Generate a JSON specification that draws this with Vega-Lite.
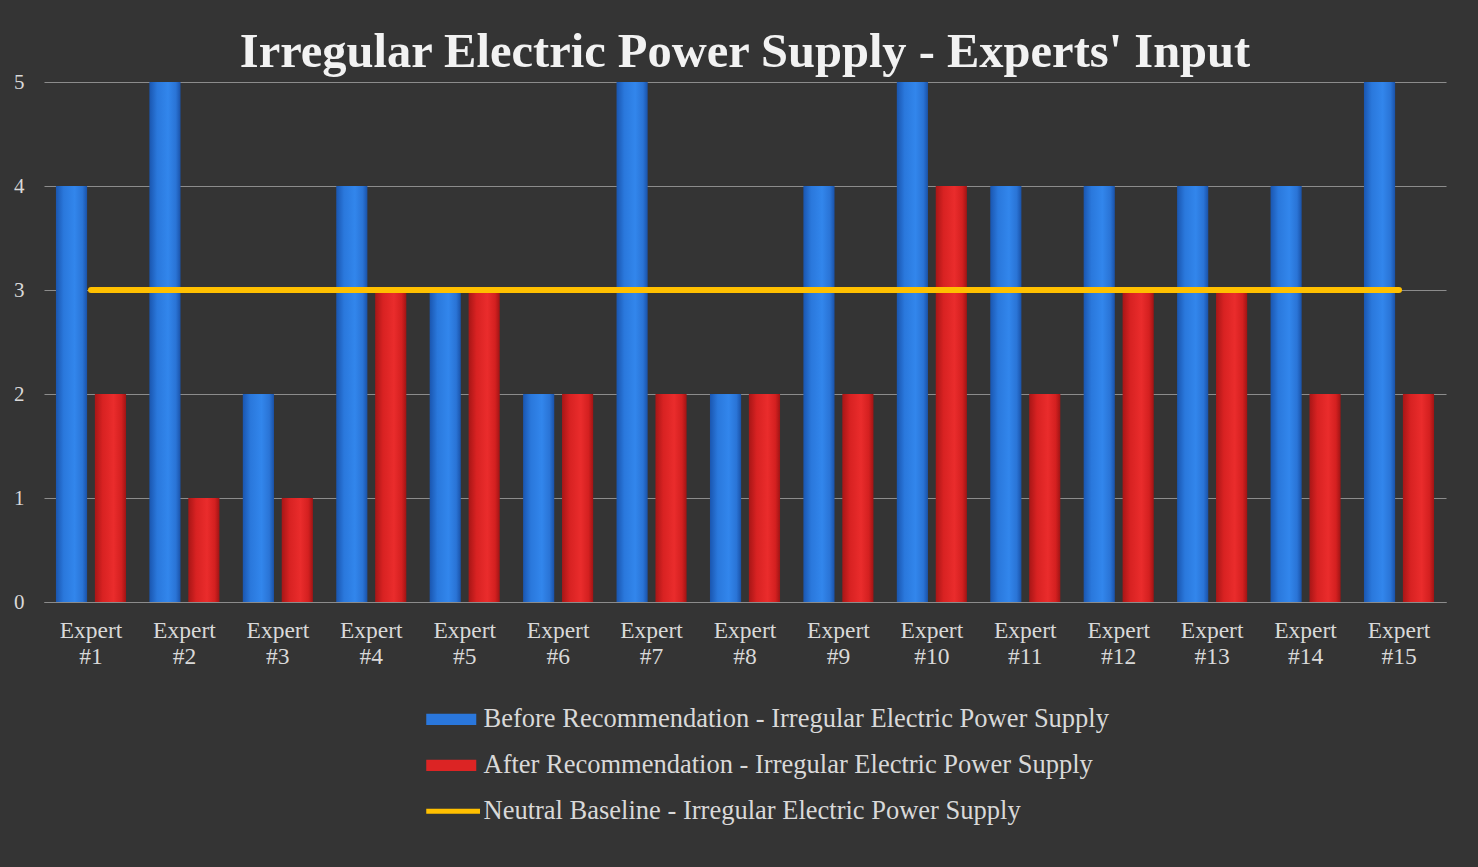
{
  "$schema": "https://vega.github.io/schema/vega-lite/v6.json",
  "autosize": {"type": "none"},
  "width": 1402,
  "height": 520,
  "padding": {"left": 44, "top": 82, "right": 32, "bottom": 265},
  "background": "#343434",
  "config": {
    "view": {"stroke": null},
    "font": "Liberation Serif"
  },
  "title": {
    "text": "Irregular Electric Power Supply - Experts' Input",
    "font": "Liberation Serif",
    "fontSize": 48.5,
    "fontWeight": "bold",
    "color": "#f2f2f2",
    "anchor": "middle",
    "offset": -6
  },
  "data": {
    "values": [
      {"expert": "Expert #1", "series": "Before Recommendation - Irregular Electric Power Supply", "value": 4},
      {"expert": "Expert #2", "series": "Before Recommendation - Irregular Electric Power Supply", "value": 5},
      {"expert": "Expert #3", "series": "Before Recommendation - Irregular Electric Power Supply", "value": 2},
      {"expert": "Expert #4", "series": "Before Recommendation - Irregular Electric Power Supply", "value": 4},
      {"expert": "Expert #5", "series": "Before Recommendation - Irregular Electric Power Supply", "value": 3},
      {"expert": "Expert #6", "series": "Before Recommendation - Irregular Electric Power Supply", "value": 2},
      {"expert": "Expert #7", "series": "Before Recommendation - Irregular Electric Power Supply", "value": 5},
      {"expert": "Expert #8", "series": "Before Recommendation - Irregular Electric Power Supply", "value": 2},
      {"expert": "Expert #9", "series": "Before Recommendation - Irregular Electric Power Supply", "value": 4},
      {"expert": "Expert #10", "series": "Before Recommendation - Irregular Electric Power Supply", "value": 5},
      {"expert": "Expert #11", "series": "Before Recommendation - Irregular Electric Power Supply", "value": 4},
      {"expert": "Expert #12", "series": "Before Recommendation - Irregular Electric Power Supply", "value": 4},
      {"expert": "Expert #13", "series": "Before Recommendation - Irregular Electric Power Supply", "value": 4},
      {"expert": "Expert #14", "series": "Before Recommendation - Irregular Electric Power Supply", "value": 4},
      {"expert": "Expert #15", "series": "Before Recommendation - Irregular Electric Power Supply", "value": 5},
      {"expert": "Expert #1", "series": "After Recommendation - Irregular Electric Power Supply", "value": 2},
      {"expert": "Expert #2", "series": "After Recommendation - Irregular Electric Power Supply", "value": 1},
      {"expert": "Expert #3", "series": "After Recommendation - Irregular Electric Power Supply", "value": 1},
      {"expert": "Expert #4", "series": "After Recommendation - Irregular Electric Power Supply", "value": 3},
      {"expert": "Expert #5", "series": "After Recommendation - Irregular Electric Power Supply", "value": 3},
      {"expert": "Expert #6", "series": "After Recommendation - Irregular Electric Power Supply", "value": 2},
      {"expert": "Expert #7", "series": "After Recommendation - Irregular Electric Power Supply", "value": 2},
      {"expert": "Expert #8", "series": "After Recommendation - Irregular Electric Power Supply", "value": 2},
      {"expert": "Expert #9", "series": "After Recommendation - Irregular Electric Power Supply", "value": 2},
      {"expert": "Expert #10", "series": "After Recommendation - Irregular Electric Power Supply", "value": 4},
      {"expert": "Expert #11", "series": "After Recommendation - Irregular Electric Power Supply", "value": 2},
      {"expert": "Expert #12", "series": "After Recommendation - Irregular Electric Power Supply", "value": 3},
      {"expert": "Expert #13", "series": "After Recommendation - Irregular Electric Power Supply", "value": 3},
      {"expert": "Expert #14", "series": "After Recommendation - Irregular Electric Power Supply", "value": 2},
      {"expert": "Expert #15", "series": "After Recommendation - Irregular Electric Power Supply", "value": 2},
      {"expert": "Expert #1", "series": "Neutral Baseline - Irregular Electric Power Supply", "value": 3},
      {"expert": "Expert #2", "series": "Neutral Baseline - Irregular Electric Power Supply", "value": 3},
      {"expert": "Expert #3", "series": "Neutral Baseline - Irregular Electric Power Supply", "value": 3},
      {"expert": "Expert #4", "series": "Neutral Baseline - Irregular Electric Power Supply", "value": 3},
      {"expert": "Expert #5", "series": "Neutral Baseline - Irregular Electric Power Supply", "value": 3},
      {"expert": "Expert #6", "series": "Neutral Baseline - Irregular Electric Power Supply", "value": 3},
      {"expert": "Expert #7", "series": "Neutral Baseline - Irregular Electric Power Supply", "value": 3},
      {"expert": "Expert #8", "series": "Neutral Baseline - Irregular Electric Power Supply", "value": 3},
      {"expert": "Expert #9", "series": "Neutral Baseline - Irregular Electric Power Supply", "value": 3},
      {"expert": "Expert #10", "series": "Neutral Baseline - Irregular Electric Power Supply", "value": 3},
      {"expert": "Expert #11", "series": "Neutral Baseline - Irregular Electric Power Supply", "value": 3},
      {"expert": "Expert #12", "series": "Neutral Baseline - Irregular Electric Power Supply", "value": 3},
      {"expert": "Expert #13", "series": "Neutral Baseline - Irregular Electric Power Supply", "value": 3},
      {"expert": "Expert #14", "series": "Neutral Baseline - Irregular Electric Power Supply", "value": 3},
      {"expert": "Expert #15", "series": "Neutral Baseline - Irregular Electric Power Supply", "value": 3}
    ]
  },
  "encoding": {
    "x": {
      "field": "expert",
      "type": "nominal",
      "scale": {
        "domain": ["Expert #1", "Expert #2", "Expert #3", "Expert #4", "Expert #5", "Expert #6", "Expert #7", "Expert #8", "Expert #9", "Expert #10", "Expert #11", "Expert #12", "Expert #13", "Expert #14", "Expert #15"],
        "paddingInner": 0.25,
        "paddingOuter": 0.128
      },
      "axis": {
        "title": null,
        "labelExpr": "split(datum.label, ' ')",
        "labelAngle": 0,
        "labelFont": "Liberation Serif",
        "labelFontSize": 23.5,
        "labelLineHeight": 26,
        "labelColor": "#d9d9d9",
        "labelPadding": 16,
        "ticks": false,
        "domain": true,
        "domainColor": "#8c8c8c",
        "domainWidth": 1.2,
        "grid": false
      }
    },
    "y": {
      "field": "value",
      "type": "quantitative",
      "scale": {"domain": [0, 5], "nice": false},
      "axis": {
        "title": null,
        "values": [0, 1, 2, 3, 4, 5],
        "labelFont": "Liberation Serif",
        "labelFontSize": 21,
        "labelColor": "#d9d9d9",
        "labelPadding": 20,
        "ticks": false,
        "domain": false,
        "grid": true,
        "gridColor": "#8c8c8c",
        "gridWidth": 1.2
      }
    }
  },
  "layer": [
    {
      "transform": [{"filter": "indexof(datum.series, 'Before') === 0"}],
      "mark": {
        "type": "bar",
        "fill": {
          "gradient": "linear", "x1": 0, "x2": 1, "y1": 0, "y2": 0,
          "stops": [
            {"offset": 0, "color": "#1a56b0"},
            {"offset": 0.25, "color": "#2a78dc"},
            {"offset": 0.6, "color": "#3286ec"},
            {"offset": 0.85, "color": "#2a74d6"},
            {"offset": 1, "color": "#1a52a8"}
          ]
        }
      },
      "encoding": {
        "xOffset": {
          "field": "series",
          "type": "nominal",
          "scale": {
            "domain": ["Before Recommendation - Irregular Electric Power Supply", "After Recommendation - Irregular Electric Power Supply"],
            "paddingInner": 0.2,
            "paddingOuter": 0
          }
        }
      }
    },
    {
      "transform": [{"filter": "indexof(datum.series, 'After') === 0"}],
      "mark": {
        "type": "bar",
        "fill": {
          "gradient": "linear", "x1": 0, "x2": 1, "y1": 0, "y2": 0,
          "stops": [
            {"offset": 0, "color": "#a81616"},
            {"offset": 0.25, "color": "#d82222"},
            {"offset": 0.6, "color": "#ea2c2c"},
            {"offset": 0.85, "color": "#d42020"},
            {"offset": 1, "color": "#a01414"}
          ]
        }
      },
      "encoding": {
        "xOffset": {
          "field": "series",
          "type": "nominal",
          "scale": {
            "domain": ["Before Recommendation - Irregular Electric Power Supply", "After Recommendation - Irregular Electric Power Supply"],
            "paddingInner": 0.2,
            "paddingOuter": 0
          }
        }
      }
    },
    {
      "transform": [{"filter": "indexof(datum.series, 'Neutral') === 0"}],
      "mark": {"type": "line", "strokeWidth": 6, "strokeCap": "round"},
      "encoding": {
        "color": {
          "field": "series",
          "type": "nominal",
          "scale": {
            "domain": ["Before Recommendation - Irregular Electric Power Supply", "After Recommendation - Irregular Electric Power Supply", "Neutral Baseline - Irregular Electric Power Supply"],
            "range": ["#2a77dc", "#dc2424", "#ffc000"]
          },
          "legend": {
            "title": null,
            "orient": "none",
            "legendX": 394,
            "legendY": 624,
            "direction": "vertical",
            "labelFont": "Liberation Serif",
            "labelFontSize": 26.5,
            "labelColor": "#d9d9d9",
            "labelLimit": 900,
            "symbolSize": 625,
            "symbolStrokeWidth": 0,
            "symbolOpacity": 1,
            "labelOffset": 19,
            "rowPadding": 19,
            "encode": {
              "symbols": {
                "update": {
                  "shape": {"signal": "indexof(datum.value, 'Neutral') === 0 ? 'M-2,-0.2H2.3V0.2H-2Z' : 'M-2,-0.45H2V0.45H-2Z'"},
                  "fill": {"signal": "scale('color', datum.value)"},
                  "fillOpacity": {"value": 1},
                  "strokeWidth": {"value": 0}
                }
              }
            }
          }
        }
      }
    }
  ]
}
